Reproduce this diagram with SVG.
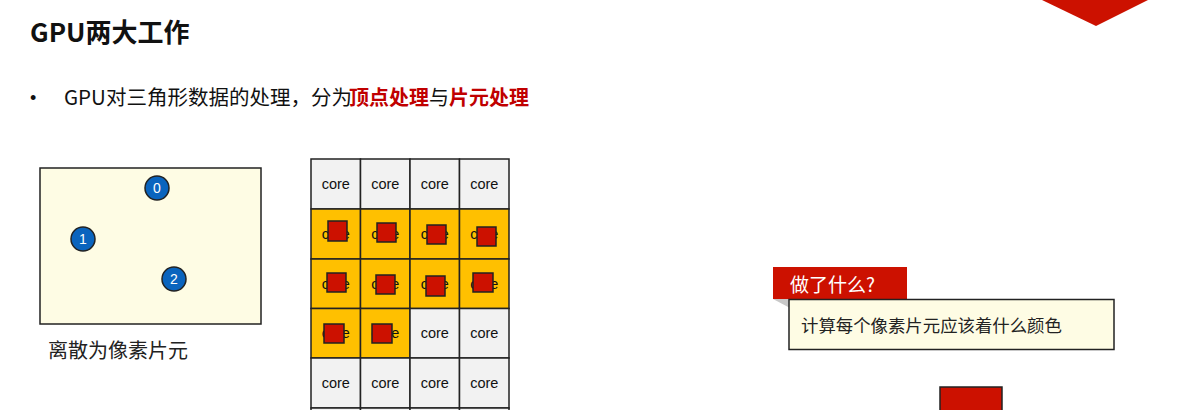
<svg xmlns="http://www.w3.org/2000/svg" width="1183" height="410" viewBox="0 0 1183 410">
<style>
.cjk{font-family:"Noto Sans CJK SC","Noto Sans",sans-serif;}
.cell{fill:#F2F2F2;stroke:#222;stroke-width:1.5;}
.hot{fill:#FFC000;stroke:#222;stroke-width:1.5;}
.core{font-family:"Liberation Sans",Arial,sans-serif;font-size:14.5px;fill:#111;text-anchor:middle;}
.frag{fill:#CC1100;stroke:#222;stroke-width:1.5;}
.vtx{fill:#0A64BE;stroke:#222;stroke-width:1.5;}
.vnum{font-family:"Liberation Sans",Arial,sans-serif;font-size:14px;fill:#fff;text-anchor:middle;}
</style>
<rect width="1183" height="410" fill="#ffffff"/>
<polygon points="1042,0 1096,26 1148,0" fill="#CC1100"/>
<text x="30" y="42" class="cjk" font-size="26" font-weight="bold" fill="#111">GPU两大工作</text>
<text x="30" y="104" font-family="Liberation Sans,sans-serif" font-size="18" fill="#111">•</text>
<text y="105" class="cjk" font-size="20" fill="#111"><tspan x="64" font-size="20.5">GPU对三角形数据的处理，分为</tspan><tspan x="349" fill="#C00000" font-weight="bold">顶点处理</tspan><tspan x="429">与</tspan><tspan x="449" fill="#C00000" font-weight="bold">片元处理</tspan></text>

<g id="screen">
<rect x="40" y="168" width="221" height="156" fill="#FEFCE4" stroke="#222" stroke-width="1.5"/>
<circle class="vtx" cx="157" cy="188" r="12"/><text class="vnum" x="157" y="193">0</text>
<circle class="vtx" cx="83" cy="239" r="12"/><text class="vnum" x="83" y="244">1</text>
<circle class="vtx" cx="174" cy="279" r="12"/><text class="vnum" x="174" y="284">2</text>
<text x="48" y="358" class="cjk" font-size="20" fill="#222">离散为像素片元</text>
</g>

<g id="cores">
<rect class="cell" x="311" y="159" width="49.5" height="50"/><rect class="cell" x="360.5" y="159" width="49.5" height="50"/><rect class="cell" x="410" y="159" width="49.5" height="50"/><rect class="cell" x="459.5" y="159" width="49.5" height="50"/>
<rect class="hot" x="311" y="209" width="49.5" height="50"/><rect class="hot" x="360.5" y="209" width="49.5" height="50"/><rect class="hot" x="410" y="209" width="49.5" height="50"/><rect class="hot" x="459.5" y="209" width="49.5" height="50"/>
<rect class="hot" x="311" y="259" width="49.5" height="49.5"/><rect class="hot" x="360.5" y="259" width="49.5" height="49.5"/><rect class="hot" x="410" y="259" width="49.5" height="49.5"/><rect class="hot" x="459.5" y="259" width="49.5" height="49.5"/>
<rect class="hot" x="311" y="308.5" width="49.5" height="49.5"/><rect class="hot" x="360.5" y="308.5" width="49.5" height="49.5"/><rect class="cell" x="410" y="308.5" width="49.5" height="49.5"/><rect class="cell" x="459.5" y="308.5" width="49.5" height="49.5"/>
<rect class="cell" x="311" y="358" width="49.5" height="50"/><rect class="cell" x="360.5" y="358" width="49.5" height="50"/><rect class="cell" x="410" y="358" width="49.5" height="50"/><rect class="cell" x="459.5" y="358" width="49.5" height="50"/>
<rect class="cell" x="311" y="408" width="49.5" height="50"/><rect class="cell" x="360.5" y="408" width="49.5" height="50"/><rect class="cell" x="410" y="408" width="49.5" height="50"/><rect class="cell" x="459.5" y="408" width="49.5" height="50"/>
<text class="core" x="335.75" y="189">core</text><text class="core" x="385.25" y="189">core</text><text class="core" x="434.75" y="189">core</text><text class="core" x="484.25" y="189">core</text>
<text class="core" x="335.75" y="239">core</text><text class="core" x="385.25" y="239">core</text><text class="core" x="434.75" y="239">core</text><text class="core" x="484.25" y="239">core</text>
<text class="core" x="335.75" y="288.5">core</text><text class="core" x="385.25" y="288.5">core</text><text class="core" x="434.75" y="288.5">core</text><text class="core" x="484.25" y="288.5">core</text>
<text class="core" x="335.75" y="338">core</text><text class="core" x="385.25" y="338">core</text><text class="core" x="434.75" y="338">core</text><text class="core" x="484.25" y="338">core</text>
<text class="core" x="335.75" y="388">core</text><text class="core" x="385.25" y="388">core</text><text class="core" x="434.75" y="388">core</text><text class="core" x="484.25" y="388">core</text>
<rect class="frag" x="328" y="221" width="19" height="20"/>
<rect class="frag" x="377" y="223" width="19" height="19"/>
<rect class="frag" x="427" y="225" width="19" height="19"/>
<rect class="frag" x="477" y="227" width="19" height="19"/>
<rect class="frag" x="327" y="273" width="19" height="19"/>
<rect class="frag" x="376" y="275" width="19" height="19"/>
<rect class="frag" x="426" y="276" width="19" height="20"/>
<rect class="frag" x="473" y="273" width="20" height="19"/>
<rect class="frag" x="324" y="324" width="20" height="19"/>
<rect class="frag" x="372" y="324" width="20" height="19"/>
</g>

<g id="callout">
<polygon points="773,299 790,299 790,308" fill="#C8C8C8"/>
<rect x="773" y="267" width="134" height="32" fill="#CC1100"/>
<text x="790" y="292" class="cjk" font-size="19" fill="#ffffff">做了什么?</text>
<rect x="789" y="299.5" width="325" height="50" fill="#FEFCE4" stroke="#222" stroke-width="1.5"/>
<text x="801" y="332" class="cjk" font-size="17.4" fill="#222">计算每个像素片元应该着什么颜色</text>
</g>

<g id="bottom-block">
<rect x="940" y="387" width="62" height="30" fill="#CC1100" stroke="#222" stroke-width="1.5"/>
</g>
</svg>
